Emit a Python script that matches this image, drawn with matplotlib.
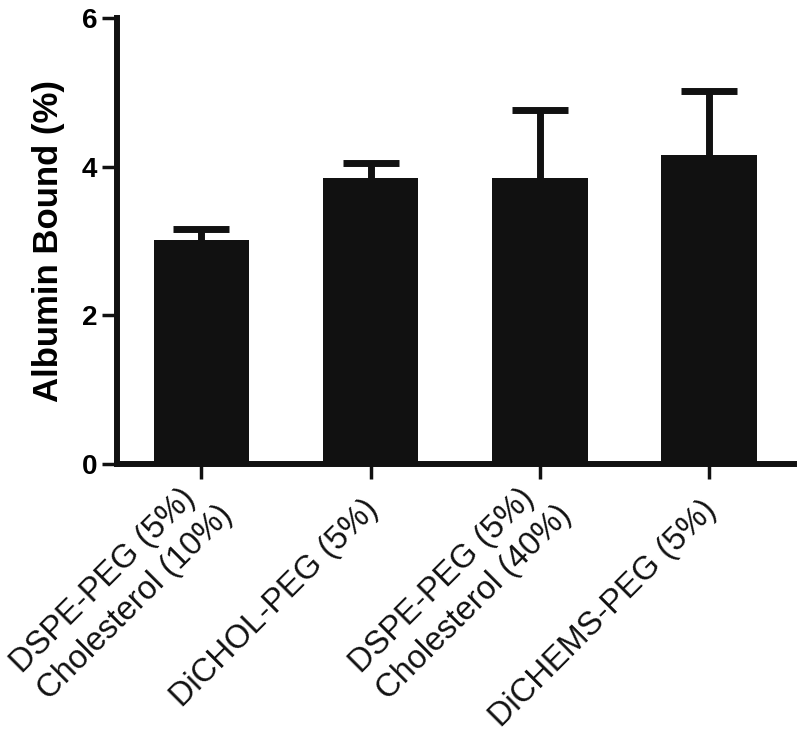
import matplotlib
matplotlib.use('Agg')
import matplotlib.pyplot as plt
import matplotlib.transforms as mtransforms
import numpy as np

# values
groups = ['DSPE-PEG (5%)\nCholesterol (10%)',
          'DiCHOL-PEG (5%)',
          'DSPE-PEG (5%)\nCholesterol (40%)',
          'DiCHEMS-PEG (5%)']
albumin_bound = [3.01, 3.85, 3.85, 4.16]
sem_upper = [0.15, 0.20, 0.91, 0.86]
y_ticks = [0, 2, 4, 6]

plt.rcParams['font.family'] = ['Liberation Sans', 'DejaVu Sans']

fig = plt.figure(figsize=(8, 7.42), dpi=100)
ax = fig.add_axes([0.146, 0.3747, 0.846, 0.601])

x = np.arange(len(groups))
ax.bar(x, albumin_bound, width=0.565, color='#111111', zorder=2)
eb = ax.errorbar(x, albumin_bound, yerr=[np.zeros(len(x)), sem_upper],
                 fmt='none', ecolor='#111111', elinewidth=5, capsize=20,
                 capthick=5, zorder=3)
# only the upper cap is drawn in the original
for cap in eb[1]:
    if np.allclose(cap.get_ydata(), albumin_bound):
        cap.set_visible(False)

ax.set_xlim(-0.5, 3.5)
ax.set_ylim(0, 6)
ax.set_yticks(y_ticks)
ax.set_yticklabels([str(t) for t in y_ticks], fontsize=20, fontweight='bold')
ax.set_xticks(x)
ax.set_xticklabels([])

# rotated group labels, placed under each tick (two-line labels sit a bit higher/right)
for xi, name in zip(x, groups):
    n = name.count('\n')
    tr = mtransforms.offset_copy(ax.get_xaxis_transform(), fig=fig,
                                 x=3 + 10 * n, y=-(41 - 8 * n), units='dots')
    ax.text(xi, 0, name, transform=tr, fontsize=23.5, rotation=45,
            ha='right', va='center', rotation_mode='anchor',
            multialignment='left', linespacing=1.3, color='#111111')

for side in ['top', 'right']:
    ax.spines[side].set_visible(False)
for side in ['left', 'bottom']:
    ax.spines[side].set_linewidth(4.3)
    ax.spines[side].set_color('#111111')
    ax.spines[side].set_capstyle('projecting')
ax.tick_params(axis='both', length=11, width=2.5, color='#111111', pad=3)

ax.set_ylabel('Albumin Bound (%)', fontsize=25, fontweight='bold', labelpad=12)

plt.savefig('out.png', dpi=100)
